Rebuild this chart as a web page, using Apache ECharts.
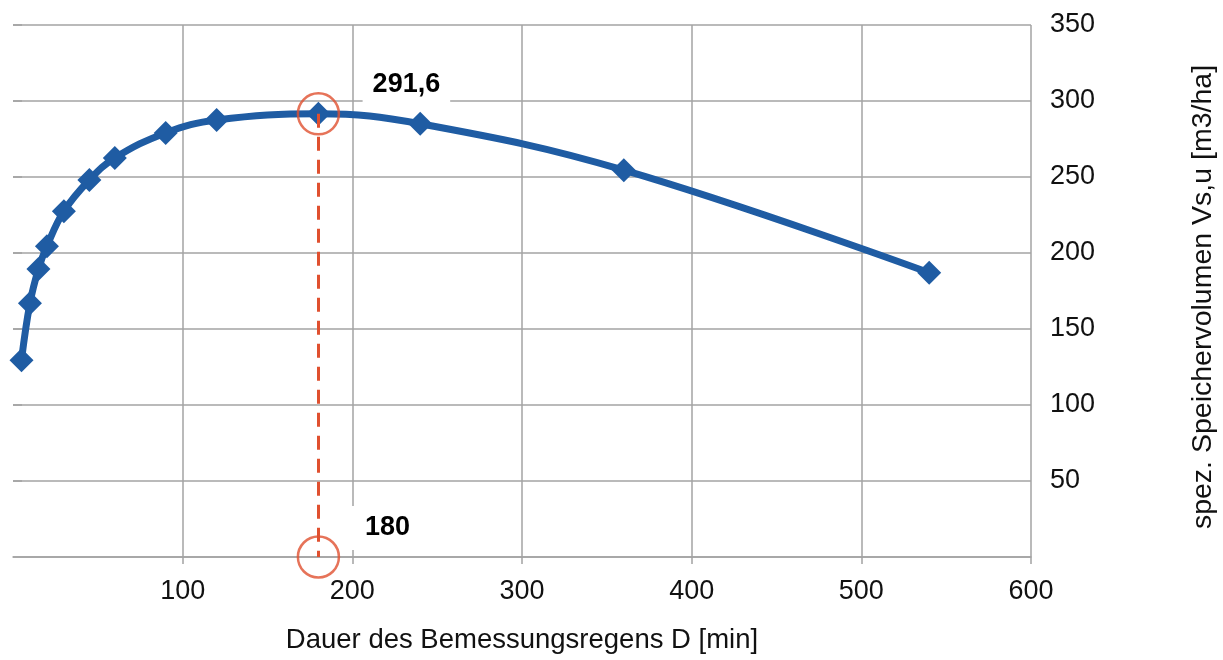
<!DOCTYPE html>
<html>
<head>
<meta charset="utf-8">
<script src="https://cdn.jsdelivr.net/npm/echarts@6/dist/echarts.min.js"></script>
<style>
html,body{margin:0;padding:0;background:#fff;}
#c{width:1223px;height:660px;}
</style>
</head>
<body>
<div id="c"></div>
<script>
// Data
const durations = [5, 10, 15, 20, 30, 45, 60, 90, 120, 180, 240, 360, 540];
const volumes = [129.5, 167, 189.5, 204.5, 227.5, 248, 262.5, 279, 287.5, 291.6, 285, 254.5, 187];
const peakDuration = 180;
const peakVolume = 291.6;
const peakVolumeLabel = '291,6';
const peakDurationLabel = '180';
const xAxisTitle = 'Dauer des Bemessungsregens D [min]';
const yAxisTitle = 'spez. Speichervolumen Vs,u [m3/ha]';

const FONT = '"Liberation Sans", Arial, sans-serif';
const GRID = '#a3a3a3';
const BLUE = '#1f5ca3';
const RED = '#e0502f';

const chart = echarts.init(document.getElementById('c'), null, {renderer: 'canvas'});
chart.setOption({
  animation: false,
  backgroundColor: '#fff',
  grid: {left: 13, right: 192, top: 25, bottom: 103, containLabel: false, outerBoundsMode: 'none'},
  xAxis: {
    type: 'value', min: 0, max: 600, interval: 100,
    axisLine: {show: true, lineStyle: {color: GRID, width: 1.5}},
    axisTick: {show: true, length: 7, lineStyle: {color: GRID, width: 1.5}},
    splitLine: {show: true, showMinLine: false, lineStyle: {color: GRID, width: 1.5}},
    axisLabel: {showMinLabel: false, color: '#111', fontFamily: FONT, fontSize: 27, margin: 21},
    name: xAxisTitle, nameLocation: 'middle', nameGap: 69,
    nameTextStyle: {color: '#111', fontFamily: FONT, fontSize: 27.5}
  },
  yAxis: {
    type: 'value', position: 'right', min: 0, max: 350, interval: 50,
    axisLine: {show: false},
    axisTick: {show: true, length: 9, lineStyle: {color: GRID, width: 1.5}},
    splitLine: {show: true, lineStyle: {color: GRID, width: 1.5}},
    axisLabel: {showMinLabel: false, color: '#111', fontFamily: FONT, fontSize: 27, margin: 19},
    name: yAxisTitle, nameLocation: 'middle', nameGap: 158, nameRotate: 90,
    nameTextStyle: {color: '#111', fontFamily: FONT, fontSize: 28.5, padding: [0, 12, 0, 0]}
  },
  series: [
    {
      type: 'line',
      data: durations.map((d, i) => [d, volumes[i]]),
      smooth: 0.4,
      symbol: 'diamond',
      symbolSize: 24,
      lineStyle: {color: BLUE, width: 7},
      itemStyle: {color: BLUE},
      z: 3,
      markLine: {
        silent: true,
        symbol: ['none', 'none'],
        label: {show: false},
        lineStyle: {color: RED, width: 3, type: [14, 9]},
        data: [[{coord: [peakDuration, peakVolume]}, {coord: [peakDuration, 0]}]],
        z: 4
      }
    },
    {
      type: 'scatter',
      clip: false,
      symbol: 'circle',
      symbolSize: 41,
      itemStyle: {color: 'rgba(0,0,0,0)', borderColor: RED, borderWidth: 2.5},
      z: 5,
      data: [
        {value: [peakDuration, peakVolume], label: {show: true, formatter: peakVolumeLabel,
          offset: [88, -29], padding: [4, 10, 10, 10]}},
        {value: [peakDuration, 0], label: {show: true, formatter: peakDurationLabel,
          offset: [67, -29], padding: [13, 10, 4, 14]}}
      ],
      label: {
        position: 'inside',
        color: '#000', fontFamily: FONT, fontWeight: 'bold', fontSize: 27,
        textBorderWidth: 0, opacity: 1,
        backgroundColor: '#fff'
      }
    }
  ]
});
</script>
</body>
</html>
